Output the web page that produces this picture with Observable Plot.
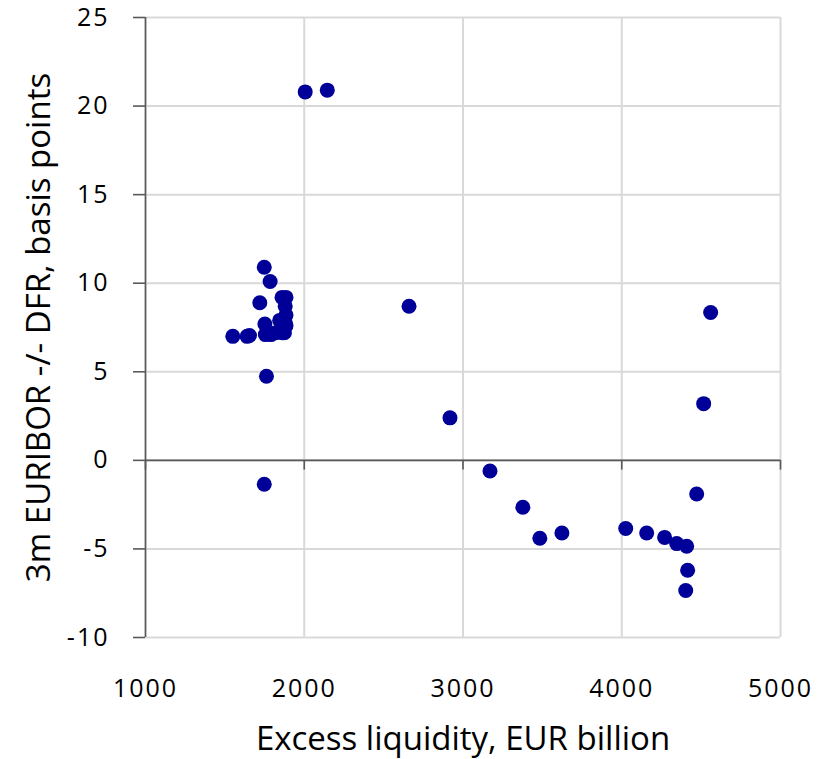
<!DOCTYPE html>
<html>
<head>
<meta charset="utf-8">
<script src="https://cdn.jsdelivr.net/npm/d3@7"></script>
<script src="https://cdn.jsdelivr.net/npm/@observablehq/plot@0.6"></script>
<style>
  html, body { margin: 0; padding: 0; background: #fff; }
  #chart svg { display: block; }
  .ticks text { letter-spacing: 2px; }
</style>
</head>
<body>
<div id="chart"></div>
<script>
// Excess liquidity (EUR billion)
const excessLiquidity = [
  1550, 1640, 1655, 1720, 1748, 1785, 1752, 1755, 1790, 1820, 1845,
  1860, 1885, 1880, 1885, 1880, 1870, 1885, 1860, 1875, 1748, 1762,
  2006, 2145, 2660, 2918, 3170, 3377, 3484, 3623, 4025, 4157, 4270,
  4346, 4409, 4415, 4403, 4472, 4516, 4560
];
// 3m EURIBOR minus DFR (basis points)
const spreadBp = [
  7.0, 7.0, 7.05, 8.9, 10.9, 10.1, 7.7, 7.1, 7.1, 7.2, 7.9,
  9.2, 9.2, 8.7, 8.2, 7.8, 7.4, 7.6, 7.2, 7.2, -1.35, 4.75,
  20.8, 20.9, 8.7, 2.4, -0.6, -2.65, -4.4, -4.1, -3.85, -4.1, -4.35,
  -4.7, -4.85, -6.2, -7.35, -1.9, 3.2, 8.35
];
const xTicks = [1000, 2000, 3000, 4000, 5000];
const yTicks = [-10, -5, 0, 5, 10, 15, 20, 25];
const xTitle = "Excess liquidity, EUR billion";
const yTitle = "3m EURIBOR -/- DFR, basis points";

const points = excessLiquidity.map((x, i) => ({x, y: spreadBp[i]}));

const font = "'Open Sans', Lato, sans-serif";
const axisColor = "#595959";

const chart = Plot.plot({
  width: 832,
  height: 759,
  marginLeft: 145,
  marginRight: 52,
  marginTop: 17,
  marginBottom: 122,
  style: {fontFamily: font, fontSize: "25px", color: "#000", background: "#fff"},
  x: {domain: [1000, 5000]},
  y: {domain: [-10, 25]},
  marks: [
    Plot.gridX(xTicks, {stroke: "#d9d9d9", strokeOpacity: 1, strokeWidth: 2}),
    Plot.gridY(yTicks, {stroke: "#d9d9d9", strokeOpacity: 1, strokeWidth: 2}),
    Plot.ruleX([1000], {stroke: axisColor, strokeWidth: 1.6}),
    Plot.ruleY([0], {stroke: axisColor, strokeWidth: 1.6}),
    Plot.ruleX(xTicks, {x: d => d, y1: 0, y2: -0.55, stroke: axisColor, strokeWidth: 1.6}),
    Plot.axisY(yTicks, {
      anchor: "left", tickSize: 12, tickPadding: 24, stroke: axisColor, strokeWidth: 1.6,
      tickFormat: d => String(d), label: null, fontSize: 25, fill: "#000", className: "ticks"
    }),
    Plot.axisX(xTicks, {
      anchor: "bottom", tickSize: 0, tickPadding: 42,
      tickFormat: d => String(d), label: null, fontSize: 25, fill: "#000", className: "ticks"
    }),
    Plot.text([xTitle], {frameAnchor: "bottom", dy: 102, lineAnchor: "middle", textAnchor: "middle", fontSize: 33, fill: "#000"}),
    Plot.text([yTitle], {frameAnchor: "left", dx: -106, rotate: -90, lineAnchor: "middle", textAnchor: "middle", fontSize: 33, fill: "#000"}),
    Plot.dot(points, {x: "x", y: "y", r: 7.5, fill: "#000099", stroke: "none"})
  ]
});
document.getElementById("chart").appendChild(chart);
</script>
</body>
</html>
